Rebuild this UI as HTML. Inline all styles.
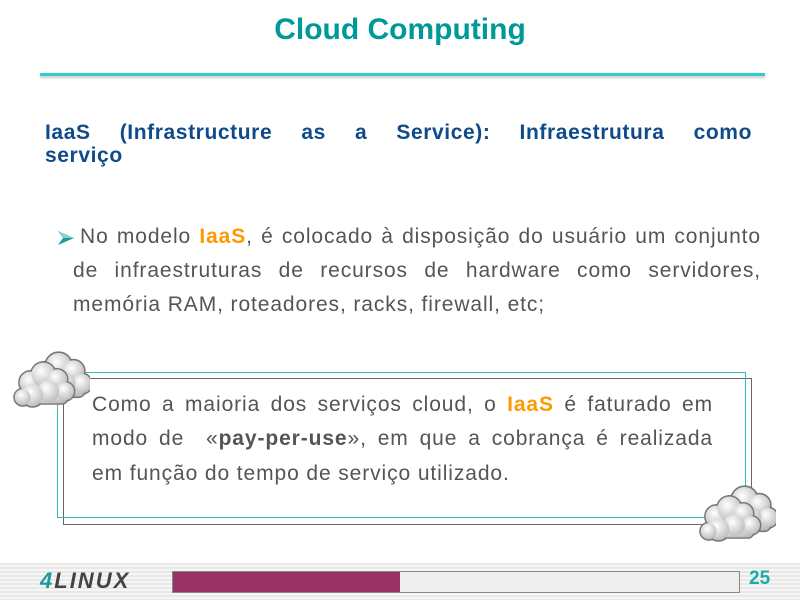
<!DOCTYPE html>
<html><head><meta charset="utf-8"><style>
body{margin:0;width:800px;height:600px;background:#fff;position:relative;overflow:hidden;font-family:"Liberation Sans",sans-serif}
.abs{position:absolute}
.title{left:0;width:800px;top:13px;text-align:center;color:#009999;font-weight:bold;font-size:30px}
.line{left:40px;width:725px;top:73px;height:3px;background:#33cccc;box-shadow:0 2px 2px #ccc}
.h{left:45px;width:707px;top:121px;color:#0f4a8a;font-weight:bold;font-size:21px;line-height:23px;text-align:justify;text-align-last:justify;letter-spacing:0.6px}
.p{color:#555;font-size:21px;line-height:34px;text-align:justify;text-align-last:justify;white-space:nowrap;letter-spacing:0.9px}
.o{color:#ff9900;font-weight:bold}
.b1{left:57px;top:372px;width:687px;height:144px;border:1px solid #33bbbb}
.b2{left:63px;top:378px;width:687px;height:145px;border:1px solid #666}
.foot{left:0;top:563px;width:800px;height:37px;background:repeating-linear-gradient(#e8e8e8 0 2px,#f6f6f6 2px 4px)}
</style></head><body>
<div class="abs title">Cloud Computing</div>
<div class="abs line"></div>
<div class="abs h">IaaS (Infrastructure as a Service): Infraestrutura como</div>
<div class="abs h" style="top:144px;text-align-last:left">serviço</div>
<svg class="abs" style="left:56px;top:228px" width="20" height="20" viewBox="0 0 20 20"><polygon points="2,3 18,10 2,17 7,10" fill="#1a9a9a"/><polygon points="2,3 18,10 7,10" fill="#7fd4d4"/></svg>
<div class="abs p" style="left:80px;width:681px;top:220px">No modelo <span class="o">IaaS</span>, é colocado à disposição do usuário um conjunto</div>
<div class="abs p" style="left:73px;width:688px;top:254px">de infraestruturas de recursos de hardware como servidores,</div>
<div class="abs p" style="left:73px;top:288px;text-align-last:left">memória RAM, roteadores, racks, firewall, etc;</div>
<div class="abs b2"></div>
<div class="abs b1"></div>
<div class="abs p" style="left:92px;width:621px;top:388px">Como a maioria dos serviços cloud, o <span class="o">IaaS</span> é faturado em</div>
<div class="abs p" style="left:92px;width:621px;top:422px">modo de &nbsp;«<b>pay-per-use</b>», em que a cobrança é realizada</div>
<div class="abs p" style="left:92px;top:457px;text-align-last:left">em função do tempo de serviço utilizado.</div>
<svg width="0" height="0" style="position:absolute"><defs><radialGradient id="g" cx="40%" cy="35%" r="70%"><stop offset="0" stop-color="#fff"/><stop offset="1" stop-color="#bbb"/></radialGradient>
<g id="c"><g fill="url(#g)" stroke="#777" stroke-width="1.5"><circle cx="20" cy="25" r="12"/><circle cx="33" cy="17" r="13"/><circle cx="47" cy="22" r="11"/><circle cx="55" cy="34" r="10"/><circle cx="38" cy="34" r="12"/><circle cx="22" cy="38" r="12"/><circle cx="12" cy="40" r="9"/><rect x="12" y="32" width="46" height="15" rx="6"/></g>
<g fill="url(#g)"><circle cx="20" cy="25" r="11"/><circle cx="33" cy="17" r="12"/><circle cx="47" cy="22" r="10"/><circle cx="55" cy="34" r="9"/><circle cx="38" cy="34" r="11"/><circle cx="22" cy="38" r="11"/><circle cx="12" cy="40" r="8"/></g></g></defs></svg>
<svg class="abs" style="left:10px;top:350px" width="80" height="60"><use href="#c" transform="translate(14,-2) scale(1.05,1.05)"/><use href="#c" transform="translate(1,8) scale(0.98,0.98)"/></svg>
<svg class="abs" style="left:696px;top:484px" width="80" height="60"><use href="#c" transform="translate(14,-2) scale(1.05,1.05)"/><use href="#c" transform="translate(1,8) scale(0.98,0.98)"/></svg>
<div class="abs foot"></div>
<div class="abs" style="left:40px;top:568px;font-size:22px;font-weight:bold;font-style:italic;color:#444;letter-spacing:2px"><span style="color:#1a9a9a">4</span>LINUX</div>
<div class="abs" style="left:172px;top:571px;width:566px;height:20px;border:1px solid #888;background:#eee"></div>
<div class="abs" style="left:173px;top:572px;width:227px;height:20px;background:#993366"></div>
<div class="abs" style="left:749px;top:568px;font-size:19px;font-weight:bold;color:#1aaaaa">25</div>
</body></html>
